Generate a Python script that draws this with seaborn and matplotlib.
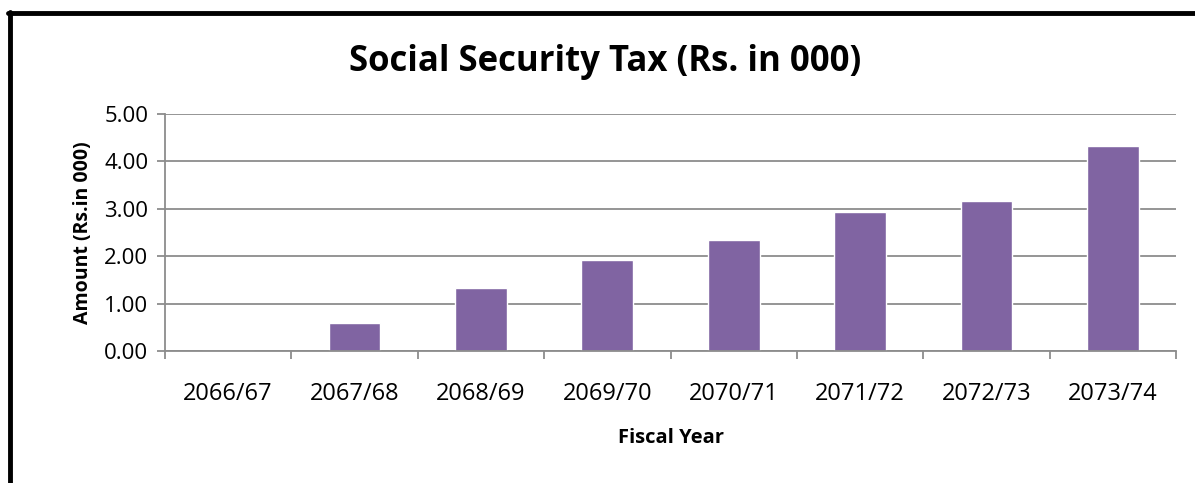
import matplotlib.pyplot as plt
import pandas as pd
import seaborn as sns
from matplotlib.lines import Line2D

# values
years = ['2066/67', '2067/68', '2068/69', '2069/70', '2070/71', '2071/72', '2072/73', '2073/74']
amount = [0.0, 0.60, 1.33, 1.92, 2.34, 2.93, 3.16, 4.32]
yticks = [0, 1, 2, 3, 4, 5]

df = pd.DataFrame({'year': years, 'amount': amount})

sns.set_style('white')
plt.rcParams['font.family'] = ['Open Sans', 'DejaVu Sans']
plt.rcParams['text.color'] = 'black'
plt.rcParams['axes.labelcolor'] = 'black'
plt.rcParams['xtick.labelcolor'] = 'black'
plt.rcParams['ytick.labelcolor'] = 'black'

fig = plt.figure(figsize=(11.95, 4.83), dpi=100)
ax = fig.add_axes([165 / 1195, 1 - 351 / 483, (1176 - 165) / 1195, (351 - 114) / 483])

sns.barplot(data=df, x='year', y='amount', color='#8064A2', saturation=1, width=0.41, ax=ax)

ax.set_ylim(0, 5)
ax.set_xlim(-0.5, len(years) - 0.5)
ax.set_yticks(yticks)
ax.set_yticklabels(['%.2f' % v for v in yticks], fontsize=16)
ax.yaxis.grid(True, color='#8c8c8c', linewidth=1.3)
ax.set_axisbelow(True)

# ticks between categories like excel
ax.set_xticks([i - 0.5 for i in range(len(years) + 1)], minor=True)
ax.set_xticks(range(len(years)))
ax.set_xticklabels(years, fontsize=17)
ax.tick_params(axis='x', which='major', length=0, pad=22)
ax.tick_params(axis='x', which='minor', length=6, color='#8c8c8c', width=1.3, bottom=True)
ax.tick_params(axis='y', length=6, color='#8c8c8c', width=1.3, left=True, pad=6)

for s in ['top', 'right']:
    ax.spines[s].set_visible(False)
for s in ['left', 'bottom']:
    ax.spines[s].set_color('#8c8c8c')
    ax.spines[s].set_linewidth(1.3)

ax.set_xlabel('Fiscal Year', fontsize=14.5, fontweight='bold', labelpad=16)
ax.set_ylabel('Amount (Rs.in 000)', fontsize=14, fontweight='bold', labelpad=8)

fig.text(605 / 1195, 1 - 62 / 483, 'Social Security Tax (Rs. in 000)', fontsize=25,
         fontweight='bold', ha='center', va='center')

# black frame around the chart (left and top edges visible)
fig.add_artist(Line2D([9.5 / 1195, 9.5 / 1195], [0, 1 - 12 / 483], color='black', linewidth=3.5,
                      transform=fig.transFigure))
fig.add_artist(Line2D([8 / 1195, 1], [1 - 13 / 483, 1 - 13 / 483], color='black', linewidth=3.5,
                      transform=fig.transFigure))

fig.savefig('out.png', dpi=100)
